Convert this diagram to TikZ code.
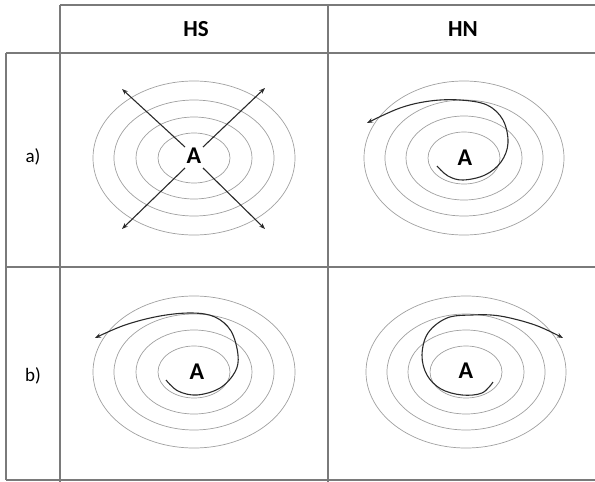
\documentclass[tikz,border=0pt]{standalone}
\usepackage{fontspec}
\setmainfont{Carlito}
\usetikzlibrary{arrows.meta}
\definecolor{gridc}{HTML}{7A7A7A}
\definecolor{ringc}{HTML}{A0A0A0}
\definecolor{arrc}{HTML}{2A2A2A}
\begin{document}
\begin{tikzpicture}[x=1pt,y=-1pt,
  gridline/.style={draw=gridc,line width=1.1pt},
  ring/.style={draw=ringc,line width=0.7pt},
  flow/.style={draw=arrc,line width=1.1pt,-{Stealth[length=6pt,width=4.5pt]}},
  head/.style={font=\fontsize{23}{23}\selectfont\bfseries},
  rowlab/.style={font=\fontsize{19}{19}\selectfont},
  center/.style={font=\fontsize{24}{24}\selectfont\bfseries}]
\useasboundingbox (0,0) rectangle (595,482);
% grid
\draw[gridline] (60,5) -- (595,5);
\draw[gridline] (6,53) -- (595,53);
\draw[gridline] (6,267) -- (595,267);
\draw[gridline] (6,480) -- (595,480);
\draw[gridline] (6,53) -- (6,480);
\draw[gridline] (60,5) -- (60,482);
\draw[gridline] (328,5) -- (328,482);
% headers
\node[head] (hs) at (196,29) {HS};
\node[head] (hn) at (463,29) {HN};
\node[rowlab] (ra) at (33,157) {a)};
\node[rowlab] (rb) at (33,376) {b)};
% cell a-HS
\foreach \rx/\ry in {101/77,80/58,58/41,36/25}
  \draw[ring] (194,158) ellipse [x radius=\rx, y radius=\ry];
\node[center] (a1) at (194,156) {A};
\coordinate (nw) at (122,89);
\coordinate (ne) at (265,88);
\coordinate (sw) at (122,229);
\coordinate (se) at (265,229);
\draw[flow] (185,147) -- (nw);
\draw[flow] (203,147) -- (ne);
\draw[flow] (185,168) -- (sw);
\draw[flow] (203,168) -- (se);
% cell a-HN
\foreach \rx/\ry in {100/77,79/58,58/42,36/26}
  \draw[ring] (464,158) ellipse [x radius=\rx, y radius=\ry];
\node[center] (a2) at (465,158) {A};
\draw[flow] plot[smooth,tension=0.6] coordinates {(437,166) (448,176) (463,180) (485,175) (501,162) (508,143) (503,120) (487,105) (460,100) (430,101) (400,108) (367,123)};
% cell b-HS
\foreach \rx/\ry in {101/76,80/58,58/42,36/26}
  \draw[ring] (194,372) ellipse [x radius=\rx, y radius=\ry];
\node[center] (a3) at (197,372) {A};
\draw[flow] plot[smooth,tension=0.6] coordinates {(166,380) (178,391) (197,395) (220,388) (235,372) (238,355) (231,331) (215,317) (192,313) (160,316) (125,325) (95,338)};
% cell b-HN
\foreach \rx/\ry in {100/76,79/58,58/42,36/26}
  \draw[ring] (466,372) ellipse [x radius=\rx, y radius=\ry];
\node[center] (a4) at (466,371) {A};
\draw[flow] plot[smooth,tension=0.6] coordinates {(493,382) (482,393) (462,395) (441,389) (427,375) (422,355) (428,333) (447,318) (472,315) (500,316) (535,325) (563,338)};
\end{tikzpicture}
\end{document}
